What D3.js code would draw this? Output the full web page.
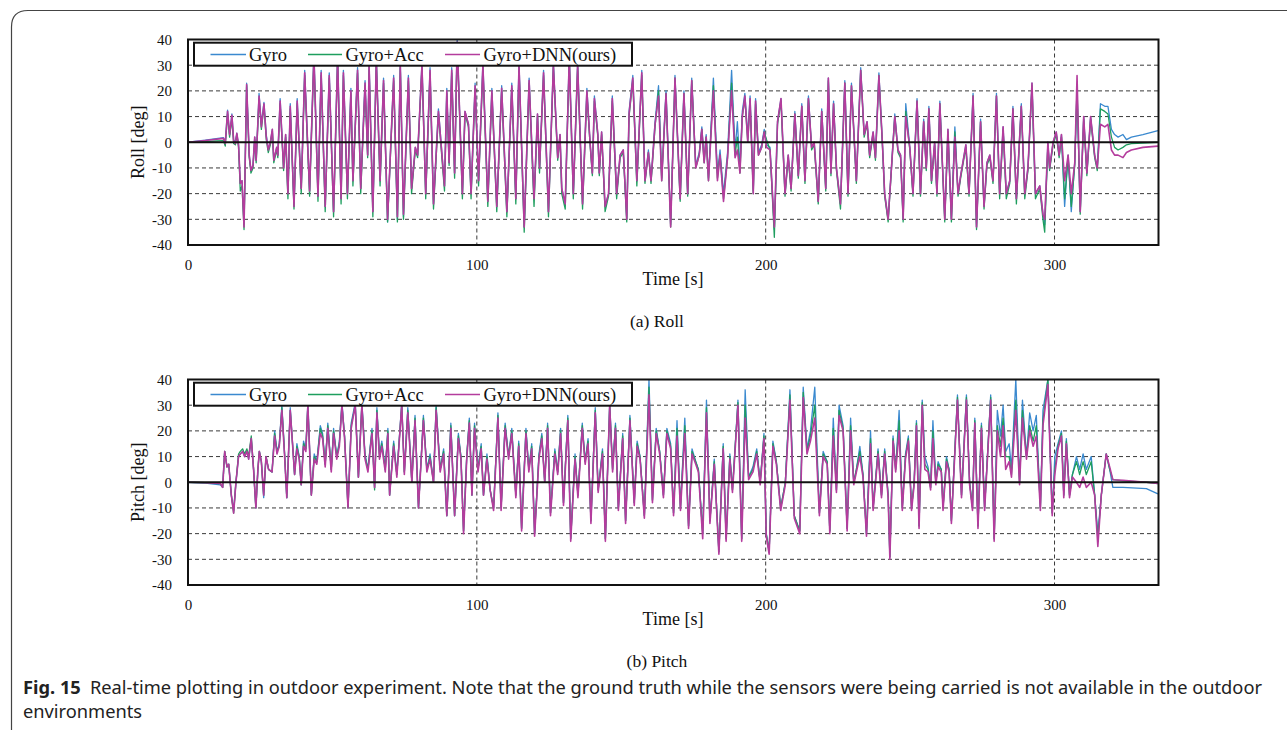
<!DOCTYPE html>
<html lang="en">
<head>
<meta charset="UTF-8">
<title>Fig. 15 Real-time plotting in outdoor experiment</title>
<script src="https://cdn.jsdelivr.net/npm/d3@7"></script>
<style>
  html, body { margin: 0; padding: 0; background: #fff; }
  svg { display: block; }
</style>
</head>
<body>
<svg id="fig" width="1287" height="730"></svg>
<script>
// ---- data (time in s, angles in deg) ----
const seriesNames = ["Gyro", "Gyro+Acc", "Gyro+DNN(ours)"];
const xTicks = [0, 100, 200, 300];
const yTicks = [-40, -30, -20, -10, 0, 10, 20, 30, 40];

const rollTime = [
  0,6,12.3,12.9,13.7,14.4,15.2,15.8,16.4,16.9,
  17.5,18.1,18.7,19.4,20.3,21.2,21.8,22.5,23.1,23.6,
  24.6,25.4,26.3,27.1,27.8,28.5,29.2,29.7,30.7,31.1,
  31.9,33.1,33.8,34.6,35.4,36.7,37.8,39.2,40.4,42.1,
  43.6,45,46.1,47.5,48.9,50.4,51.8,53,53.8,55.2,
  56.4,57.1,58.7,59.8,61.3,62.2,62.7,64,65.2,66.5,
  67.7,69.1,71.2,72.5,73.5,74.6,76.3,77.4,78.7,79.5,
  81,82.3,83.8,85,86.7,88.8,89.6,90.4,91.3,92.3,
  93.2,95,95.9,97.1,98,99.4,100.6,102.1,103.8,105.2,
  106.9,108.6,110.4,112.1,113.5,114.6,116.4,118.1,119.8,121,
  121.7,123.1,124.8,126.5,128,128.8,129.4,130.6,132,133.4,
  134.9,136.6,138.1,139.2,140,140.7,141.9,142.4,143.2,144.4,
  145.6,146.9,148.4,149.6,150.7,151.9,152.7,154,155.4,157.1,
  158.2,159.4,160.3,161.7,162.9,164,165.5,167.1,168.6,170.4,
  171.7,173,174.4,175.8,177,177.9,178.7,179.4,180.2,181.9,
  183.3,184.2,185.4,186.8,188.2,189.4,190.2,191.1,191.9,192.8,
  193.8,194.6,195.7,196.5,197.5,198.6,199.5,200.3,201.5,203,
  204.1,205.3,206.7,207.8,208.8,210.1,211.3,212.5,213.6,214.8,
  215.9,216.8,218.2,219.4,220.8,221.7,222.6,223.5,224.5,225.9,
  227.4,228.5,229.7,231.4,232.9,234.1,235.1,236,237.2,238,
  239.2,240.4,241.2,242.4,244.7,245.8,246.7,247.6,248.5,249.9,
  251,252.4,253.6,254.7,255.6,256.5,257.4,258.5,259.3,260.3,
  262,263.1,264.3,265.5,266.6,267.5,269.3,270.4,271.8,273,
  274.4,275.6,276.6,277.6,278.7,279.9,281,282.2,283.3,284.5,
  285.6,286.8,288.5,289.7,290.8,292.2,293.4,294.9,296,296.6,
  297.7,298.3,299.5,300.6,301.6,302.4,303.5,304.7,305.8,307,
  307.8,308.9,310.1,311.2,312.5,313.9,314.8,315.9,317.4,318.5,
  319.7,320.8,322,323.7,324.9,326.6,330.6,335.8
];
const rollGyro = [
  0,0.8,1.8,0,12.5,3,11,1,0,3.5,
  -1,-16,-15,-32,23,-5,-11,-9,2,-7,
  19,7,15.5,3,-3,0,5,-7,-2,-5,
  17,-10,3,-20,15,-25,17,-18,28,-19,
  35,-21,28,-25,27,-27,34,-22,28,-20,
  21,-15,29,-18,24,-5,31,-27,33,-15,
  25,-31,26,-30,31,-29,26,-18,-2,-5,
  31,-20,29,-24,13,-17,21,-8,29,-12,
  40,-20,12,7,-20,23,-15,31,-23,21,
  -25,22,-27,23,-22,31,-33,25,-22,11,
  -10,28,-27,31,-6,3,-18,-24,34,-20,
  31,-24,21,0,-12,18,3,-12,4,-25,
  -20,18,-20,-5,-3,-30,12,26,-15,28,
  -15,-3,-15,8,22,-14,20,-32,26,-22,
  20,-20,25,-9,-4,6,-7,3,-14,25,
  -12,-3,-20,-4,28,-3,8,-10,12,19,
  2,18,-19,17,-4,-1,5,-1,-2,-34,
  8,17,-20,-5,-18,12,-13,15,-15,18,
  -2,0,-23,13,-18,25,-12,16,-10,-24,
  24,-20,23,-15,29,3,8,-5,4,-6,
  27,0,-20,-30,11,-3,-5,-30,15,-2,
  -20,17,-20,9,-10,14,-15,0,-20,16,
  -30,5,-30,6,-20,-13,-1,-20,19,-33,
  9,-25,-8,-5,-15,19,-20,6,-20,-15,
  14,-22,15,-20,-10,23,-20,-17,-28,-32,
  0,-10,0,4,-5,3,-25,-5,-27,-8,
  20,-27,10,-12,10,-5,-10,15,14,14,
  5,3,2,3,1,2,3,4.5
];
const rollAcc = [
  0,0.3,0.6,-1.5,11,2,9,-0.5,-1,3,
  -2,-19,-17,-34,22,-6,-12,-10,1,-8,
  17,5,14,1,-4,-1,4,-8,-3,-6,
  15,-11,2,-22,13,-26,15,-20,26,-21,
  33,-23,26,-27,25,-29,32,-24,26,-22,
  19,-17,27,-20,22,-6,29,-29,31,-17,
  23,-31,24,-31,29,-30,24,-20,-3,-6,
  29,-22,27,-26,11,-19,19,-9,27,-14,
  38,-22,11,6,-22,21,-17,29,-25,19,
  -27,20,-29,21,-24,29,-35,23,-25,10,
  -12,26,-29,29,-7,2,-20,-26,32,-22,
  29,-26,19,-1,-13,16,2,-13,3,-27,
  -21,16,-22,-6,-4,-31,10,24,-17,26,
  -16,-4,-16,6,20,-15,19,-33,25,-23,
  19,-21,24,-10,-5,5,-8,2,-15,22,
  -14,-5,-22,-6,23,-5,2,-12,10,17,
  0,16,-20,15,-5,-2,4,1,-3,-37,
  7,16,-21,-6,-19,11,-14,14,-16,17,
  -3,-1,-24,12,-19,24,-13,15,-11,-26,
  23,-21,22,-16,28,2,7,-6,3,-7,
  26,-1,-21,-31,10,-4,-6,-31,12,-3,
  -21,16,-21,8,-11,13,-16,-1,-21,15,
  -31,4,-31,4,-21,-14,-2,-21,18,-34,
  8,-26,-9,-6,-16,18,-22,5,-22,-16,
  13,-24,14,-22,-11,22,-22,-18,-30,-35,
  -1,-11,-1,3,-6,2,-22,-6,-25,-9,
  22,-28,9,-13,9,-6,-11,13,12,11,
  2,-2,-3,-2,-1,-0.5,-0.3,0
];
const rollDnn = [
  0,0.7,1.5,-0.5,12,3,10.5,0.5,-0.5,3.5,
  -1,-16,-15,-33,22.5,-5,-11,-9,2,-7,
  18,6,15,2,-3,0,5,-7,-2,-5,
  16,-10,3,-20,14,-25,16,-18,27,-19,
  34,-21,27,-25,26,-27,33,-22,27,-20,
  20,-15,28,-18,23,-5,30,-27,32,-15,
  24,-30,25,-29,30,-28,25,-18,-2,-5,
  30,-20,28,-24,12,-17,20,-8,28,-12,
  39,-20,12,7,-20,22,-15,30,-23,20,
  -25,21,-27,22,-22,30,-33,24,-22,11,
  -10,27,-27,30,-6,3,-18,-24,33,-20,
  30,-24,20,0,-12,17,3,-12,4,-25,
  -20,17,-20,-5,-3,-30,11,25,-15,27,
  -15,-4,-15,7,18,-15,19,-33,25,-22,
  19,-20,24,-10,-5,5,-8,2,-15,20,
  -15,-5,-23,-6,20,-6,-3,-12,10,18,
  0,17,-20,16,-5,-2,4,-2,-3,-33,
  8,17,-20,-5,-18,11,-13,14,-15,17,
  -2,0,-23,12,-18,25,-12,15,-10,-24,
  23,-20,22,-15,28,3,8,-5,4,-6,
  26,0,-20,-30,10,-3,-5,-30,10,-2,
  -20,16,-20,8,-10,13,-15,0,-20,15,
  -30,5,-30,2,-20,-13,-1,-20,18,-33,
  8,-25,-8,-5,-15,18,-20,6,-20,-15,
  13,-22,14,-20,-10,23,-20,-17,-28,-30,
  0,-10,0,4,-5,3,-15,-5,-20,-8,
  26,-27,10,-12,10,-5,-10,7,6,7,
  -3,-5,-5,-6,-4,-3,-2,-1.5
];

const pitchTime = [
  0,6,11.2,12,12.7,13.5,14.1,15,15.8,16.6,
  17.5,18.1,18.9,19.6,20.4,21,21.9,22.7,23.5,24.2,
  24.7,25.4,26.2,27,27.9,29.1,30,30.8,31.6,32.5,
  33.4,34.2,35.4,36.9,37.7,38.5,39.2,40,40.8,41.5,
  42.7,43.7,44.6,45.8,46.6,47.5,48.4,49.6,50.4,51.5,
  52.4,53.3,54.2,55.4,56.5,57.9,59,60.2,61.3,62.3,
  63.7,64.6,65.4,66.3,67.1,68.3,69.2,69.8,71.2,72.3,
  74,74.9,76.1,77.5,78.6,79.8,81.5,82.7,83.8,85,
  85.9,87.3,88.5,89.6,91,92.3,93.6,94.5,95.4,96.5,
  97.4,98.3,99.2,100.4,101.5,102.3,103.5,104.6,105.8,107.3,
  108.4,109.8,111,112.1,113.5,114.5,115.5,117,118,119,
  120,121.5,122.5,123.5,124.5,125.5,127,128,129,130,
  131.5,132.5,134,135,136.5,137.5,138.5,139.5,141,142,
  143.5,144.5,146,147,148,149,150.5,151.5,153,154.5,
  155.5,156.5,158,159.6,160.8,162.1,163.3,164.6,165.8,167.1,
  168.1,169.3,170.5,172,173.3,174.5,175.8,176.7,178.2,179.5,
  180.7,182.2,183.8,185.3,186.3,187.6,188.5,190.4,191.7,192.9,
  194.1,195.6,196.9,198.1,199.4,200.2,201.2,202.5,203.7,205.2,
  206.8,208.4,209.9,211.8,213,214.3,215.5,217,218.6,219.9,
  221.3,222.2,223.4,224.5,225.4,226.8,228.2,229.4,230.5,231.4,
  232.6,233.7,234.9,236.3,237.2,238.9,240.1,241.2,242.4,243,
  244.1,245,246.2,247.3,248.4,249.4,250.5,251.4,252.2,253.1,
  254.2,255.1,256.2,257.1,257.9,258.9,259.7,260.8,261.4,262.6,
  263.5,264.3,266.4,267.8,269.5,270.6,271.6,272.4,273.5,274.7,
  275.8,277.9,279.1,280.2,281.3,282.2,283.1,284.3,285.1,286.6,
  287.9,288.9,290.3,291.4,292.6,293.7,295.1,296,297.7,299.2,
  300.1,301.2,302.4,303.2,304.1,305.2,306.2,307.6,308.7,309.9,
  311,312.7,313.9,315,316.2,317.9,319.1,320.2,323.7,331.8,
  335.8
];
const pitchGyro = [
  0,-0.3,-1,-2,12,6,7,-5,-11,0,
  10,11,12,10,12,9,17,5,-10,5,
  12,8,-6,10,5,4,20,12,15,30,
  12,-6,29,3,15,10,-1,16,13,31,
  -5,11,8,22,19,7,23,5,21,10,
  16,31,18,-10,23,31,2,31,11,5,
  21,-2,29,11,16,5,21,-5,16,3,
  31,4,29,0,26,-10,26,5,11,0,
  30,5,13,-13,23,-13,19,10,-19,10,
  25,-5,23,5,15,-5,11,-3,-10,27,
  -10,23,10,21,-5,16,-18,21,5,15,
  -20,11,19,0,23,-12,13,4,21,-8,
  26,-22,11,-5,23,8,17,-15,29,-3,
  13,-22,31,5,23,-10,19,-15,26,-8,
  16,10,-13,40,-7,21,12,-5,21,15,
  -12,24,-10,25,-17,13,8,5,-20,32,
  -15,9,-27,15,-22,11,-3,32,-22,36,
  2,6,13,0,19,-20,-27,16,8,-10,
  0,36,-13,-19,37,13,20,37,-12,12,
  8,-19,25,-3,30,22,-18,25,0,5,
  14,3,-20,20,-10,13,-5,13,-5,-29,
  18,5,28,-10,11,18,-10,0,24,-17,
  32,10,6,-2,24,0,8,5,-10,10,
  5,-15,34,-5,34,0,-10,25,-17,23,
  -10,34,-22,28,18,30,12,15,5,40,
  0,32,10,27,20,26,-10,28,40,-12,
  10,15,20,-5,17,-5,3,10,5,11,
  5,10,-5,-20,-5,11,5,-2,-2,-2.5,
  -4.5
];
const pitchAcc = [
  0,-0.2,-0.5,-2,12,6,7,-5,-12,0,
  11,12,13,11,13,10,18,5,-10,5,
  12,8,-5,10,5,4,19,12,14,29,
  12,-6,28,3,14,10,-1,15,13,30,
  -5,10,8,21,18,7,22,5,20,10,
  15,30,18,-10,22,30,2,30,10,5,
  20,-3,28,10,15,5,20,-5,15,3,
  30,4,28,0,25,-10,25,5,10,0,
  29,5,12,-13,22,-13,18,10,-19,10,
  24,-5,22,5,14,-5,10,-3,-10,26,
  -10,22,10,20,-5,15,-18,20,5,14,
  -20,10,18,0,22,-12,12,4,20,-8,
  25,-22,10,-5,22,8,16,-15,28,-3,
  12,-22,30,5,22,-10,18,-15,25,-8,
  15,10,-13,37,-7,20,12,-5,20,14,
  -12,21,-10,22,-17,12,8,5,-20,29,
  -15,8,-27,14,-22,10,-3,31,-22,30,
  2,5,12,0,18,-20,-27,15,8,-10,
  0,34,-13,-19,35,12,18,30,-12,11,
  8,-19,21,-3,28,21,-18,22,0,5,
  12,3,-20,17,-10,12,-5,12,-5,-29,
  17,5,24,-10,10,17,-10,0,23,-17,
  31,7,5,-2,20,0,7,5,-10,9,
  5,-15,33,-5,33,0,-10,24,-17,22,
  -10,33,-22,22,14,25,10,10,3,32,
  0,28,10,22,16,22,-10,24,40,-12,
  5,14,19,-5,16,-5,3,8,3,8,
  3,8,-5,-22,-5,11,5,1,0.5,0,
  -0.5
];
const pitchDnn = [
  0,-0.2,-0.5,-2,12,6,7,-5,-12,0,
  10,11,12,10,12,9,17,5,-10,5,
  12,8,-5,10,5,4,18,11,14,28,
  11,-6,28,3,13,9,-1,14,12,30,
  -5,9,7,19,17,6,21,4,19,9,
  14,30,17,-10,21,30,2,30,9,4,
  19,-2,27,9,14,4,19,-5,14,2,
  30,3,27,0,24,-10,24,4,9,0,
  28,4,11,-13,21,-13,17,9,-20,9,
  23,-5,21,4,13,-5,9,-3,-11,25,
  -11,21,9,19,-6,14,-19,19,4,13,
  -21,9,17,0,21,-13,11,3,19,-9,
  24,-23,9,-6,21,7,15,-16,27,-4,
  11,-23,30,4,21,-11,17,-16,24,-9,
  14,9,-14,34,-8,19,11,-6,19,13,
  -13,18,-11,19,-18,11,7,4,-22,27,
  -16,7,-28,13,-23,9,-4,30,-23,25,
  1,4,11,-1,17,-21,-28,14,7,-11,
  -1,32,-14,-20,33,11,16,25,-13,10,
  7,-20,18,-4,26,20,-19,20,-1,4,
  10,2,-21,15,-11,11,-6,11,-6,-30,
  16,4,20,-11,9,16,-11,-1,22,-18,
  30,5,4,-3,17,-1,6,4,-11,8,
  4,-16,32,-6,32,-1,-11,23,-18,21,
  -11,32,-23,20,10,22,5,8,2,28,
  -1,25,9,20,14,18,-11,22,38,-13,
  3,13,18,-6,15,-6,2,0,-2,2,
  -2,0,-5,-25,-5,11,6,1,0.8,0,
  -0.5
];

// ---- drawing ----
const colors = ["#3a89cf", "#1e9e5e", "#b43c9d"];
const widths = [1.3, 1.3, 1.6];
const serif = "'Liberation Serif', 'Times New Roman', serif";
const W = 1287, H = 730;
const plotLeft = 188, plotRight = 1158.5, plotH = 205.5;

const svg = d3.select("#fig");
svg.append("rect").attr("width", W).attr("height", H).attr("fill", "#fff");

// figure box (only top-left corner is inside the page)
svg.append("path")
  .attr("d", "M11.5,730 V27 Q11.5,10.5 28,10.5 H1287")
  .attr("fill", "none").attr("stroke", "#444").attr("stroke-width", 1.2);

const x = d3.scaleLinear().domain([0, 336]).range([plotLeft, plotRight]);

function drawPanel(top, yLabel, subLabel, time, series, clipId) {
  const bottom = top + plotH;
  const y = d3.scaleLinear().domain([-40, 40]).range([bottom, top]);
  const g = svg.append("g");

  g.append("clipPath").attr("id", clipId)
    .append("rect").attr("x", plotLeft).attr("y", top)
    .attr("width", plotRight - plotLeft).attr("height", plotH);

  // dashed grid
  g.append("g").selectAll("line")
    .data(yTicks.filter(v => v !== 0 && Math.abs(v) !== 40))
    .join("line")
    .attr("x1", plotLeft).attr("x2", plotRight)
    .attr("y1", d => y(d)).attr("y2", d => y(d))
    .attr("stroke", "#3a3a3a").attr("stroke-width", 1)
    .attr("stroke-dasharray", "4,3");
  g.append("g").selectAll("line")
    .data(xTicks.filter(v => v !== 0))
    .join("line")
    .attr("x1", d => x(d)).attr("x2", d => x(d))
    .attr("y1", top).attr("y2", bottom)
    .attr("stroke", "#3a3a3a").attr("stroke-width", 1)
    .attr("stroke-dasharray", "4,3");

  // signals
  const line = d3.line().x((d, i) => x(time[i])).y(d => y(d));
  g.append("g").attr("clip-path", `url(#${clipId})`)
    .selectAll("path")
    .data(series)
    .join("path")
    .attr("d", d => line(d))
    .attr("fill", "none")
    .attr("stroke", (d, i) => colors[i])
    .attr("stroke-width", (d, i) => widths[i])
    .attr("stroke-linejoin", "round");

  // zero line
  g.append("line")
    .attr("x1", plotLeft).attr("x2", plotRight)
    .attr("y1", y(0)).attr("y2", y(0))
    .attr("stroke", "#111").attr("stroke-width", 2);

  // frame
  g.append("rect")
    .attr("x", plotLeft).attr("y", top)
    .attr("width", plotRight - plotLeft).attr("height", plotH)
    .attr("fill", "none").attr("stroke", "#111").attr("stroke-width", 2);

  // axes (labels only, plain hyphen minus as in the figure)
  const ya = g.append("g").attr("transform", `translate(${plotLeft},0)`)
    .call(d3.axisLeft(y).tickValues(yTicks).tickSize(0).tickPadding(16)
      .tickFormat(d => String(d)));
  const xa = g.append("g").attr("transform", `translate(0,${bottom})`)
    .call(d3.axisBottom(x).tickValues(xTicks).tickSize(0).tickPadding(14)
      .tickFormat(d => String(d)));
  [ya, xa].forEach(a => {
    a.select(".domain").remove();
    a.selectAll("text").attr("font-family", serif).attr("font-size", 15).attr("fill", "#111");
  });

  g.append("text")
    .attr("transform", `translate(138,${(top + bottom) / 2}) rotate(-90)`)
    .attr("text-anchor", "middle").attr("dominant-baseline", "central")
    .attr("font-family", serif).attr("font-size", 18).attr("fill", "#111")
    .text(yLabel);
  g.append("text")
    .attr("x", 673).attr("y", bottom + 40)
    .attr("text-anchor", "middle")
    .attr("font-family", serif).attr("font-size", 18).attr("fill", "#111")
    .text("Time [s]");
  g.append("text")
    .attr("x", 657).attr("y", bottom + 82)
    .attr("text-anchor", "middle")
    .attr("font-family", serif).attr("font-size", 17.5).attr("fill", "#111")
    .text(subLabel);

  // legend
  const lg = g.append("g");
  lg.append("rect")
    .attr("x", 194).attr("y", top + 3.2).attr("width", 438).attr("height", 23)
    .attr("fill", "#fff").attr("stroke", "#111").attr("stroke-width", 2);
  const items = [[210.5, 246, 249], [308, 342, 345.5], [445, 480, 483.5]];
  seriesNames.forEach((name, i) => {
    const [x1, x2, tx] = items[i];
    lg.append("line")
      .attr("x1", x1).attr("x2", x2)
      .attr("y1", top + 15).attr("y2", top + 15)
      .attr("stroke", colors[i]).attr("stroke-width", 1.3);
    lg.append("text")
      .attr("x", tx).attr("y", top + 15)
      .attr("dominant-baseline", "central")
      .attr("font-family", serif).attr("font-size", 18.5).attr("fill", "#111")
      .text(name);
  });
}

drawPanel(39.5, "Roll [deg]", "(a) Roll", rollTime, [rollGyro, rollAcc, rollDnn], "clipRoll");
drawPanel(379.5, "Pitch [deg]", "(b) Pitch", pitchTime, [pitchGyro, pitchAcc, pitchDnn], "clipPitch");

// caption
const capFont = "'Noto Sans', 'Open Sans', sans-serif";
const cap1 = svg.append("text")
  .attr("x", 23).attr("y", 694)
  .attr("font-family", capFont).attr("font-size", 18).attr("fill", "#222");
cap1.append("tspan").attr("font-weight", "bold").text("Fig. 15");
cap1.append("tspan").text("\u2002Real-time plotting in outdoor experiment. Note that the ground truth while the sensors were being carried is not available in the outdoor");
const cap2 = svg.append("text")
  .attr("x", 23).attr("y", 718)
  .attr("font-family", capFont).attr("font-size", 18).attr("fill", "#222")
  .text("environments");

const natural1 = cap1.node().getComputedTextLength();
const squeeze = 1239 / natural1;
cap1.attr("textLength", 1239).attr("lengthAdjust", "spacingAndGlyphs");
cap2.attr("textLength", cap2.node().getComputedTextLength() * squeeze)
  .attr("lengthAdjust", "spacingAndGlyphs");
</script>
</body>
</html>
